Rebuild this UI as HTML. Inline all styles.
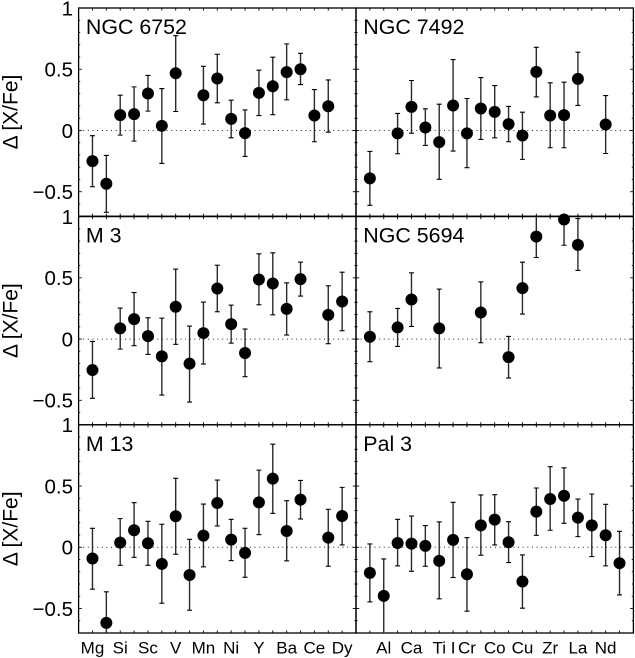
<!DOCTYPE html>
<html>
<head>
<meta charset="utf-8">
<title>Abundance ratios</title>
<style>
html,body{margin:0;padding:0;background:#fff;}
svg{display:block;font-family:"Liberation Sans",sans-serif;}
</style>
</head>
<body>
<svg id="chart" xmlns="http://www.w3.org/2000/svg" width="635" height="658" viewBox="0 0 635 658"></svg>
<script>
const leftLabels = ["Mg","Si","Sc","V","Mn","Ni","Y","Ba","Ce","Dy"];
const leftLabelIndex = [0,2,4,6,8,10,12,14,16,18];
const rightLabels = ["Al","Ca","Ti","I","Cr","Co","Cu","Zr","La","Nd"];
const rightLabelIndex = [1,3,5,6,7,9,11,13,15,17];
const yTickValues = [1,0.5,0,-0.5];
const yTickLabels = ["1","0.5","0","\u22120.5"];
const clusterNames = ["NGC 6752","NGC 7492","M 3","NGC 5694","M 13","Pal 3"];

const val6752 = [-0.25,-0.435,0.125,0.133,0.302,0.038,0.467,null,0.288,0.424,0.095,-0.022,0.307,0.361,0.476,0.5,0.122,0.198,null];
const low6752 = [-0.459,-0.668,-0.038,-0.087,0.158,-0.269,0.155,null,0.052,0.226,-0.06,-0.212,0.122,0.129,0.25,0.375,-0.092,-0.014,null];
const high6752 = [-0.043,-0.204,0.288,0.356,0.449,0.342,0.774,null,0.524,0.622,0.247,0.168,0.492,0.598,0.707,0.63,0.334,0.413,null];

const val7492 = [-0.391,null,-0.024,0.193,0.024,-0.095,0.204,-0.024,0.179,0.152,0.052,-0.041,0.478,0.122,0.125,0.421,null,0.049,null];
const low7492 = [-0.611,null,-0.19,-0.022,-0.122,-0.399,-0.168,-0.304,-0.073,-0.06,-0.092,-0.236,0.274,-0.141,-0.141,0.204,null,-0.188,null];
const high7492 = [-0.171,null,0.139,0.408,0.177,0.215,0.579,0.261,0.432,0.367,0.196,0.149,0.679,0.389,0.394,0.639,null,0.285,null];

const valM3 = [-0.253,null,0.087,0.163,0.024,-0.141,0.264,-0.201,0.049,0.413,0.122,-0.114,0.486,0.454,0.247,0.489,null,0.198,0.307];
const lowM3 = [-0.484,null,-0.082,-0.054,-0.125,-0.457,-0.043,-0.514,-0.204,0.223,-0.033,-0.307,0.28,0.198,0.033,0.351,null,-0.038,0.068];
const highM3 = [-0.019,null,0.253,0.38,0.174,0.171,0.571,0.106,0.302,0.603,0.277,0.082,0.696,0.704,0.459,0.628,null,0.435,0.546];

const val5694 = [0.019,null,0.095,0.323,null,0.087,null,null,0.217,null,-0.147,0.416,0.837,null,0.976,0.769,null,null,null];
const low5694 = [-0.185,null,-0.06,0.103,null,-0.236,null,null,-0.03,null,-0.318,0.204,0.666,null,0.766,0.56,null,null,null];
const high5694 = [0.223,null,0.25,0.541,null,0.408,null,null,0.467,null,0.022,0.628,1.008,null,1.185,0.984,null,null,null];

const valM13 = [-0.092,-0.617,0.038,0.139,0.033,-0.136,0.253,-0.226,0.095,0.361,0.0625,-0.046,0.367,0.56,0.133,0.389,null,0.079,0.255];
const lowM13 = [-0.342,-0.85,-0.147,-0.082,-0.147,-0.457,-0.057,-0.514,-0.16,0.174,-0.109,-0.245,0.103,0.277,-0.111,0.231,null,-0.155,0.019];
const highM13 = [0.155,-0.364,0.234,0.364,0.212,0.188,0.563,0.065,0.353,0.549,0.228,0.155,0.63,0.842,0.38,0.546,null,0.31,0.489];

const valPal3 = [-0.209,-0.397,0.035,0.03,0.011,-0.111,0.06,-0.22,0.179,0.226,0.041,-0.28,0.291,0.394,0.421,0.242,0.179,0.098,-0.13];
const lowPal3 = [-0.446,-0.75,-0.152,-0.196,-0.155,-0.421,-0.247,-0.522,-0.065,0.019,-0.125,-0.497,0.098,0.139,0.196,0.087,-0.076,-0.152,-0.389];
const highPal3 = [0.027,-0.095,0.228,0.255,0.177,0.207,0.367,0.079,0.427,0.429,0.209,-0.0625,0.484,0.658,0.649,0.394,0.435,0.351,0.13];

const allValues = [val6752,val7492,valM3,val5694,valM13,valPal3];
const allLow = [low6752,low7492,lowM3,low5694,lowM13,lowPal3];
const allHigh = [high6752,high7492,highM3,high5694,highM13,highPal3];

const svg = document.getElementById('chart');
const NS = 'http://www.w3.org/2000/svg';
const colLeft = [78.6, 356];
const rowTop = [8, 216.6, 424.8];
const panelW = 277.4, panelH = 208.2;
const xUnit = panelW / 20, yUnit = panelH / 1.7;

function xAxis(col, i) { return colLeft[col] + (i + 1) * xUnit; }
function yAxis(row, v) { return rowTop[row] + (1 - v) * yUnit; }

function mk(tag, attrs, parent) {
  const el = document.createElementNS(NS, tag);
  for (const k in attrs) el.setAttribute(k, attrs[k]);
  (parent || svg).appendChild(el);
  return el;
}
function seg(parent, x1, y1, x2, y2, w, extra) {
  const attrs = {x1: x1, y1: y1, x2: x2, y2: y2, stroke: '#000', 'stroke-width': w};
  if (extra) for (const k in extra) attrs[k] = extra[k];
  return mk('line', attrs, parent);
}

const defs = mk('defs', {});

for (let p = 0; p < 6; p++) {
  const col = p % 2, row = Math.floor(p / 2);
  const L = colLeft[col], T = rowTop[row], R = L + panelW, B = T + panelH;

  const g = mk('g', {});
  
  

  const clip = mk('clipPath', {id: 'clip' + p}, defs);
  mk('rect', {x: L, y: T, width: panelW, height: panelH}, clip);

  // zero line
  const zero = seg(g, L, yAxis(row, 0), R, yAxis(row, 0), 1, {'stroke-dasharray': '1 3.63', stroke: '#222'});
  
  

  // x ticks
  const xTicks = mk('g', {}, g);
  
  
  for (let i = 0; i < 19; i++) {
    const tx = xAxis(col, i);
    seg(xTicks, tx, T, tx, T + 2.6, 0.9);
    seg(xTicks, tx, B, tx, B - 2.6, 0.9);
  }

  // y ticks
  const yTicks = mk('g', {}, g);
  
  
  for (let n = -6; n <= 9; n++) {
    const ty = yAxis(row, n / 10);
    const len = (n % 5 === 0) ? 3.2 : 1.6;
    seg(yTicks, L, ty, L + len, ty, 0.9);
    seg(yTicks, R, ty, R - len, ty, 0.9);
  }

  // frame
  const frame = mk('rect', {x: L, y: T, width: panelW, height: panelH, fill: 'none', stroke: '#000', 'stroke-width': 1.3}, g);
  
  

  // title
  const name = mk('text', {x: L + 7.3, y: T + 26, 'font-size': 21.4, fill: '#000'}, g);
  name.textContent = clusterNames[p];
  
  

  // y labels
  if (col === 0) {
    yTickValues.forEach(function (v, k) {
      const t = mk('text', {x: 73, y: yAxis(row, v) + 7.4, 'font-size': 20.5, 'text-anchor': 'end', fill: '#000'}, g);
      t.textContent = yTickLabels[k];
      
      
    });
    const cy = T + 104;
    const title = mk('text', {x: 17.5, y: cy, 'font-size': 21, 'text-anchor': 'middle', fill: '#000', transform: 'rotate(-90 17.5 ' + cy + ')'}, g);
    title.textContent = '\u0394 [X/Fe]';
    
    
  }

  // x labels
  if (row === 2) {
    const labels = col === 0 ? leftLabels : rightLabels;
    const idx = col === 0 ? leftLabelIndex : rightLabelIndex;
    labels.forEach(function (s, k) {
      const t = mk('text', {x: xAxis(col, idx[k]), y: 653.5, 'font-size': 17, 'text-anchor': 'middle', fill: '#000'}, g);
      t.textContent = s;
      
      
    });
  }

  // error bars and points
  const bars = mk('g', {'clip-path': 'url(#clip' + p + ')'}, g);
  
  
  const pts = mk('g', {}, g);
  
  
  const vals = allValues[p], lows = allLow[p], highs = allHigh[p];
  vals.forEach(function (v, i) {
    if (v === null) return;
    const px = xAxis(col, i);
    const yl = yAxis(row, lows[i]), yh = yAxis(row, highs[i]);
    seg(bars, px, yl, px, yh, 1.4, {stroke: '#2a2a2a'});
    seg(bars, px - 2.5, yl, px + 2.5, yl, 1.1);
    seg(bars, px - 2.5, yh, px + 2.5, yh, 1.1);
    const c = mk('circle', {cx: px, cy: yAxis(row, v), r: 6, fill: '#000'}, pts);
    
    
  });
}
</script>
</body>
</html>
